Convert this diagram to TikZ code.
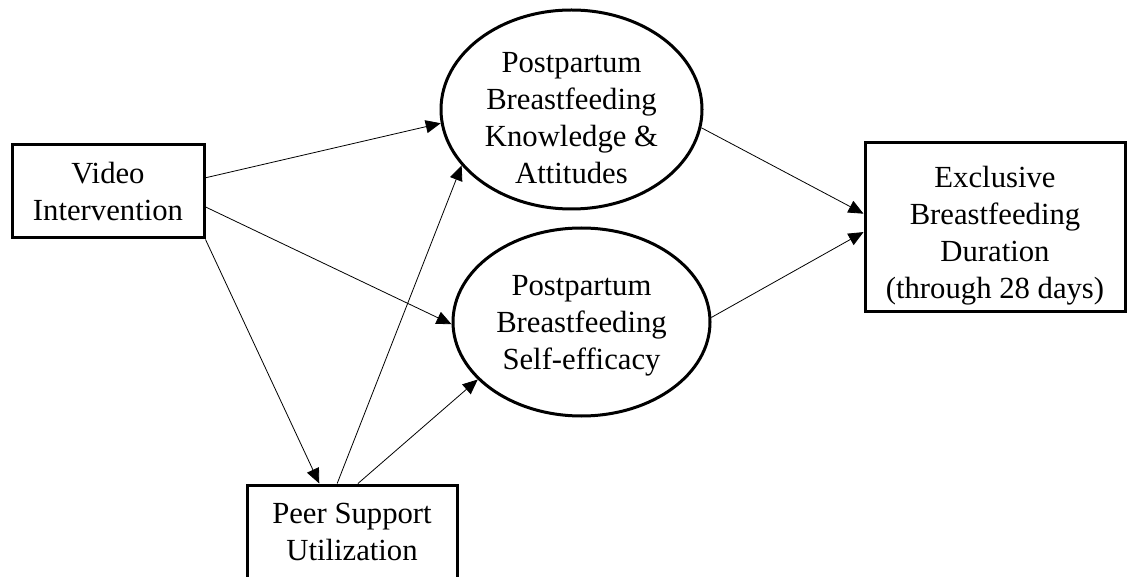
\documentclass[tikz,border=0pt]{standalone}
\usepackage{fontspec}
\setmainfont{Liberation Serif}
\usetikzlibrary{shapes.geometric,arrows.meta}
\tikzset{
  lbl/.style={align=center, font=\fontsize{30.7}{37}\selectfont, inner sep=0pt},
  boxnode/.style={lbl, draw, line width=3pt, rectangle},
  ellnode/.style={draw, line width=3pt, ellipse, inner sep=0pt},
  conn/.style={line width=0.8pt, -{Triangle[length=15pt,width=13pt]}},
}
\begin{document}
\begin{tikzpicture}[x=1pt,y=-1pt]
\useasboundingbox (0,0) rectangle (1130,577);
\node[boxnode, minimum width=192pt, minimum height=93pt] (video) at (108,191.5) {Video\\Intervention};
\node[ellnode, minimum width=261pt, minimum height=199pt] (know) at (571.5,109.5) {};
\node[lbl] (knowtext) at ([yshift=-9pt]know.center) {Postpartum\\Breastfeeding\\Knowledge \&\\Attitudes};
\node[ellnode, minimum width=257pt, minimum height=188pt] (self) at (581.5,322) {};
\node[lbl] (selftext) at ([yshift=-4pt]self.center) {Postpartum\\Breastfeeding\\Self-efficacy};
\node[draw, line width=3pt, rectangle, minimum width=260pt, minimum height=169pt] (excl) at (995,227.5) {};
\node[lbl] (excltext) at ([yshift=-8pt]excl.center) {Exclusive\\Breastfeeding\\Duration\\(through 28 days)};
\node[boxnode, minimum width=210pt, minimum height=94pt] (peer) at (352,532) {Peer Support\\Utilization};
\draw[conn] (video.8) -- (know.186.7);
\draw[conn] (video.-9.2) -- (self.181.3);
\draw[conn] (video.south east) -- (peer.124.2);
\draw[conn] (peer.107.7) -- (know.207.3);
\draw[conn] (peer.83.9) -- (self.209.9);
\draw[conn] (know.-8.6) -- (excl.174.5);
\draw[conn] (self.2.7) -- (excl.182.4);
\end{tikzpicture}
\end{document}
